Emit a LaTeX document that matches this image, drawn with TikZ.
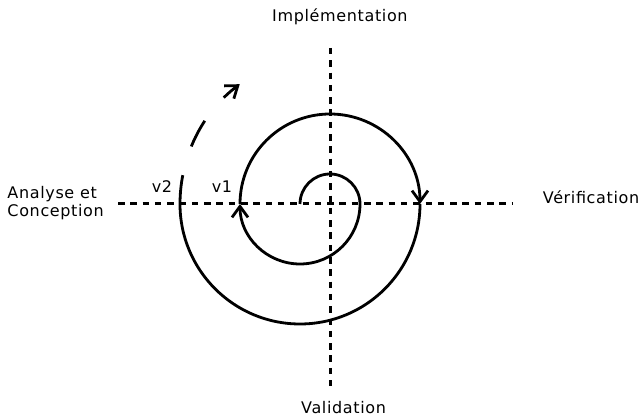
\documentclass[tikz,border=0pt]{standalone}
\usepackage{fontspec}
\setmainfont{DejaVu Sans}[LetterSpace=4]
\usetikzlibrary{arrows.meta}
\tikzset{
  axisline/.style={line width=3pt, dash pattern=on 6.5pt off 5.8pt},
  spiral/.style={line width=2.8pt, line cap=butt},
  barb/.style={-{Straight Barb[length=11pt,width=16pt,line width=2.8pt]}},
  lbl/.style={inner sep=0pt, anchor=base west, font=\fontsize{16}{19}\selectfont}
}
\begin{document}
\begin{tikzpicture}[x=1pt,y=1pt]
\useasboundingbox (0,0) rectangle (643,417);
% axes
\coordinate (hl) at (118,213);
\coordinate (hr) at (512,213);
\coordinate (vt) at (330,369);
\coordinate (vb) at (330,31);
\draw[axisline] (hl) -- (hr);
\draw[axisline] (vt) -- (vb);
% spiral
\coordinate (s0) at (300,213);
\coordinate (s1) at (360,213);
\coordinate (s2) at (240,213);
\coordinate (s3) at (420,213);
\coordinate (s4) at (180,213);
\draw[spiral] (s0) arc[start angle=180, end angle=0, radius=30];
\draw[spiral, barb] (s1) arc[start angle=0, end angle=-180, radius=60];
\draw[spiral, barb] (s2) arc[start angle=180, end angle=0, radius=90];
\draw[spiral] (s3) arc[start angle=0, end angle=-180, radius=120];
\draw[spiral, barb, dash pattern=on 29pt off 30pt] (s4) arc[start angle=180, end angle=127, radius=150];
% labels
\node[lbl] (impl) at (272,395.5) {Implémentation};
\node[lbl] (verif) at (542.7,213.7) {Vérification};
\node[lbl] (valid) at (301,3) {Validation};
\node[lbl] (ana1) at (7.3,218.7) {Analyse et};
\node[lbl] (ana2) at (7.3,200.3) {Conception};
\node[lbl] (v1) at (211.7,224.3) {v1};
\node[lbl] (v2) at (151.7,224) {v2};
\end{tikzpicture}
\end{document}
